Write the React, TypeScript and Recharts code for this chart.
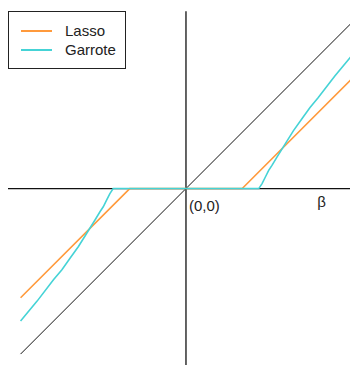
import React from "react";
import { LineChart, Line, XAxis, YAxis, ReferenceLine, ReferenceDot } from "recharts";

// beta values and the thresholded estimates
const identityX = [-1, 1];
const identityY = [-1, 1];

const lassoX = [-1, -0.34, 0.34, 1];
const lassoY = [-0.66, 0, 0, 0.66];

const garroteX = [-1, -0.9, -0.8, -0.75, -0.7, -0.65, -0.6, -0.55, -0.52, -0.5, -0.48, -0.46, -0.44,
  0.44, 0.46, 0.48, 0.5, 0.52, 0.55, 0.6, 0.65, 0.7, 0.75, 0.8, 0.9, 1];
const garroteY = [-0.8, -0.68, -0.55, -0.49, -0.42, -0.35, -0.27, -0.19, -0.14, -0.11, -0.07, -0.03, 0,
  0, 0.03, 0.07, 0.11, 0.14, 0.19, 0.27, 0.35, 0.42, 0.49, 0.55, 0.68, 0.8];

const seriesNames = ["Lasso", "Garrote"];
const originLabel = "(0,0)";
const axisLabel = "β";

const ORANGE = "#ff9a3c";
const CYAN = "#45d3d6";
const FONT = "'Liberation Sans', Arial, Helvetica, sans-serif";

const toRows = (xs: number[], ys: number[]) => xs.map((x, i) => ({ x, y: ys[i] }));

const identity = toRows(identityX, identityY);
const lasso = toRows(lassoX, lassoY);
const garrote = toRows(garroteX, garroteY);

const LegendBox = () => (
  <div
    style={{
      position: "absolute",
      left: 0,
      top: 3,
      width: 116,
      height: 56,
      border: "1px solid #222",
      background: "#fff",
      fontFamily: FONT,
      fontSize: 15,
      color: "#222",
    }}
  >
    {seriesNames.map((name, i) => (
      <div
        key={name}
        style={{ position: "absolute", left: 12, top: 10 + i * 19, display: "flex", alignItems: "center", height: 18 }}
      >
        <span style={{ display: "inline-block", width: 31, height: 2, background: i === 0 ? ORANGE : CYAN }} />
        <span style={{ marginLeft: 13, lineHeight: "18px" }}>{name}</span>
      </div>
    ))}
  </div>
);

const App = () => {
  return (
    <div style={{ position: "relative", width: 350, height: 357 }}>
      <LineChart width={350} height={357} margin={{ top: 0, right: 0, bottom: 0, left: 0 }}>
        <XAxis type='number' dataKey='x' domain={[-1.076, 1.04]} hide allowDataOverflow />
        <YAxis type='number' dataKey='y' domain={[-1.066, 1.091]} hide allowDataOverflow />
        <ReferenceLine y={0} stroke='#111' strokeWidth={1.3} ifOverflow='visible' />
        <ReferenceLine
          segment={[
            { x: 0, y: 1.072 },
            { x: 0, y: -1.066 },
          ]}
          stroke='#111'
          strokeWidth={1.3}
        />
        <Line data={identity} dataKey='y' type='linear' stroke='#111' strokeWidth={1} dot={false} isAnimationActive={false} />
        <Line data={lasso} dataKey='y' name='Lasso' type='linear' stroke={ORANGE} strokeWidth={1.6} dot={false} isAnimationActive={false} />
        <Line data={garrote} dataKey='y' name='Garrote' type='linear' stroke={CYAN} strokeWidth={1.6} dot={false} isAnimationActive={false} />
        <ReferenceDot
          x={0}
          y={0}
          r={1}
          fill='none'
          stroke='none'
          label={(props: any) => {
            const vb = props.viewBox || {};
            return (
              <text x={(vb.x ?? 0) + 4} y={(vb.y ?? 0) + 23} fontFamily={FONT} fontSize={15} fill='#222'>
                {originLabel}
              </text>
            );
          }}
        />
        <ReferenceDot
          x={0.82}
          y={0}
          r={1}
          fill='none'
          stroke='none'
          label={(props: any) => {
            const vb = props.viewBox || {};
            return (
              <text x={(vb.x ?? 0) + 1} y={(vb.y ?? 0) + 19} fontFamily={FONT} fontSize={15} fill='#222' textAnchor='middle'>
                {axisLabel}
              </text>
            );
          }}
        />
      </LineChart>
      <LegendBox />
    </div>
  );
};

export default App;
